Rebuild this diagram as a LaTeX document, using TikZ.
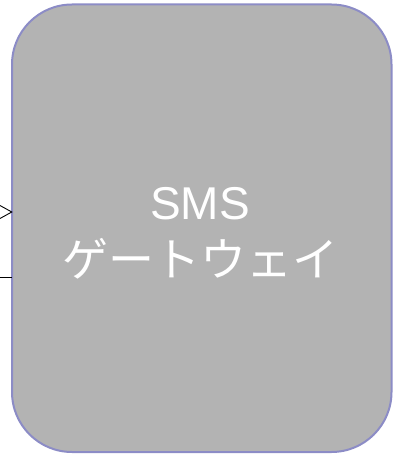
\documentclass[tikz,border=0pt]{standalone}
\usepackage{fontspec}
\setmainfont{Liberation Sans}
\newfontfamily\jpfont{Noto Sans CJK JP}
\definecolor{boxfill}{HTML}{B3B3B3}
\definecolor{boxline}{HTML}{8C8CC6}
\begin{document}
\begin{tikzpicture}[x=1pt,y=-1pt,
  gwbox/.style={draw=boxline, line width=2pt, fill=boxfill, rounded corners=60pt},
  gwtext/.style={text=white, font=\fontsize{46}{57}\selectfont, align=center},
  conn/.style={draw=black, line width=0.9pt}]
\useasboundingbox (0,0) rectangle (393,454);
\path[gwbox] (12,4.5) rectangle (391.5,452) ;
\node[minimum width=379.5pt, minimum height=447.5pt, inner sep=0pt] (gw) at (201.75,228.25) {};
\node[gwtext] (lbl) at (200,233) {SMS\\{\jpfont ゲートウェイ}};
% incoming arrow (only head visible)
\coordinate (tip) at (gw.west |- 0,212);
\coordinate (a1) at (0,205.5);
\coordinate (a2) at (0,218.5);
\draw[conn] (a1) -- (tip) -- (a2);
% incoming line
\coordinate (l0) at (0,277.5);
\draw[conn] (l0) -- (gw.west |- l0);
\end{tikzpicture}
\end{document}
